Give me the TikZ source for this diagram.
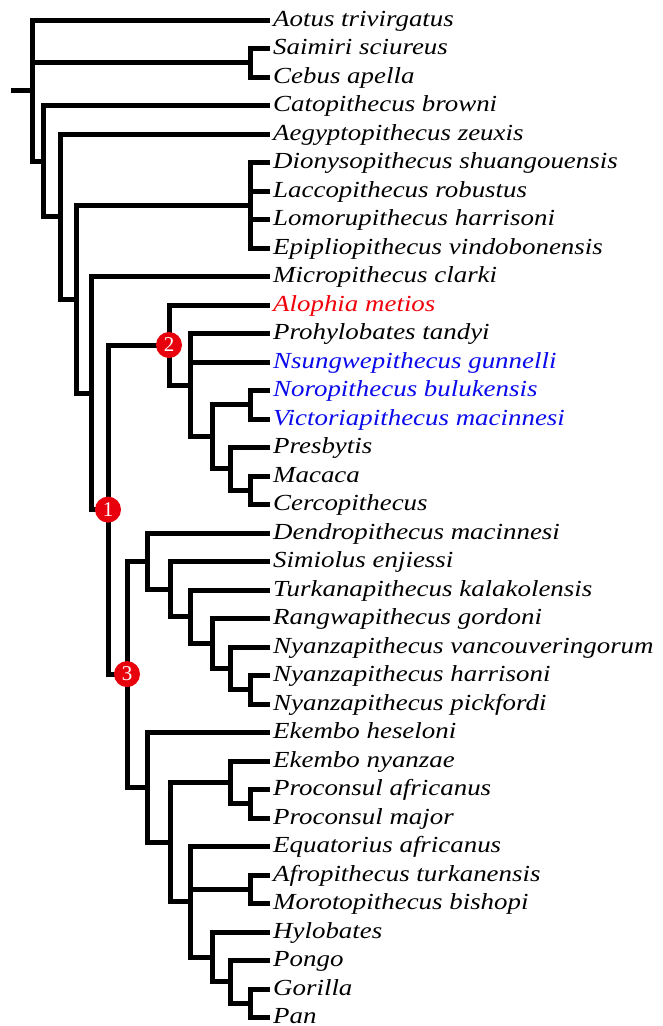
\documentclass[tikz,border=0pt]{standalone}
\usepackage{fontspec}
\usepackage{graphicx}
\setmainfont{Liberation Serif}
\definecolor{tred}{RGB}{240,0,10}
\definecolor{tblue}{RGB}{10,10,235}
\definecolor{cred}{RGB}{232,0,12}
\newcommand{\tx}[1]{\scalebox{1.17}[1]{\itshape #1}}
\tikzset{
  br/.style={line width=5pt, line join=miter, line cap=butt},
  lab/.style={anchor=base west, inner sep=0pt, xshift=3pt, yshift=-6pt, font=\fontsize{23}{27}\selectfont},
  num/.style={circle, fill=cred, text=white, minimum size=26pt, inner sep=0pt, font=\fontsize{21}{21}\selectfont},
}
\begin{document}
\begin{tikzpicture}[x=1pt,y=-1pt]
\useasboundingbox (0,0) rectangle (663,1026);
% leaves
\coordinate (L1) at (270,20);
\coordinate (L2) at (270,48.5);
\coordinate (L3) at (270,77);
\coordinate (L4) at (270,105.5);
\coordinate (L5) at (270,134);
\coordinate (L6) at (270,162.5);
\coordinate (L7) at (270,191);
\coordinate (L8) at (270,219.5);
\coordinate (L9) at (270,248);
\coordinate (L10) at (270,276.5);
\coordinate (L11) at (270,305);
\coordinate (L12) at (270,333.5);
\coordinate (L13) at (270,362);
\coordinate (L14) at (270,390.5);
\coordinate (L15) at (270,419);
\coordinate (L16) at (270,447.5);
\coordinate (L17) at (270,476);
\coordinate (L18) at (270,504.5);
\coordinate (L19) at (270,533);
\coordinate (L20) at (270,561.5);
\coordinate (L21) at (270,590);
\coordinate (L22) at (270,618.5);
\coordinate (L23) at (270,647);
\coordinate (L24) at (270,675.5);
\coordinate (L25) at (270,704);
\coordinate (L26) at (270,732.5);
\coordinate (L27) at (270,761);
\coordinate (L28) at (270,789.5);
\coordinate (L29) at (270,818);
\coordinate (L30) at (270,846.5);
\coordinate (L31) at (270,875);
\coordinate (L32) at (270,903.5);
\coordinate (L33) at (270,932);
\coordinate (L34) at (270,960.5);
\coordinate (L35) at (270,989);
\coordinate (L36) at (270,1017.5);
% internal nodes
\coordinate (stub) at (11,90.5);
\coordinate (root) at (32,90.5);
\coordinate (nSC) at (250,62.25);
\coordinate (nA) at (43,161);
\coordinate (nB) at (60,216.6);
\coordinate (nC) at (76,299.1);
\coordinate (nD) at (250,205.25);
\coordinate (nE) at (91,393);
\coordinate (n1) at (108,509.6);
\coordinate (n2) at (169,345);
\coordinate (nF) at (190,385.1);
\coordinate (nG) at (212,436.8);
\coordinate (nH) at (250,404.75);
\coordinate (nI) at (230,468.9);
\coordinate (nJ) at (250,490.25);
\coordinate (n3) at (127,674.1);
\coordinate (nK) at (147,561);
\coordinate (nL) at (170,589.1);
\coordinate (nM) at (190,616.7);
\coordinate (nN) at (212,643.4);
\coordinate (nO) at (230,668.4);
\coordinate (nP) at (250,689.75);
\coordinate (nQ) at (147,787.3);
\coordinate (nR) at (170,842);
\coordinate (nS) at (230,782.4);
\coordinate (nU) at (250,803.75);
\coordinate (nT) at (190,901.7);
\coordinate (nV) at (250,889.25);
\coordinate (nW) at (212,957);
\coordinate (nX) at (230,981.9);
\coordinate (nY) at (250,1003.25);
% branches
\draw[br] (stub) -- (root);
\draw[br] (root) |- (L1);
\draw[br] (root) |- (nSC);
\draw[br] (root) |- (nA);
\draw[br] (nSC) |- (L2);
\draw[br] (nSC) |- (L3);
\draw[br] (nA) |- (L4);
\draw[br] (nA) |- (nB);
\draw[br] (nB) |- (L5);
\draw[br] (nB) |- (nC);
\draw[br] (nC) |- (nD);
\draw[br] (nC) |- (nE);
\draw[br] (nD) |- (L6);
\draw[br] (nD) |- (L7);
\draw[br] (nD) |- (L8);
\draw[br] (nD) |- (L9);
\draw[br] (nE) |- (L10);
\draw[br] (nE) |- (n1);
\draw[br] (n1) |- (n2);
\draw[br] (n1) |- (n3);
\draw[br] (n2) |- (L11);
\draw[br] (n2) |- (nF);
\draw[br] (nF) |- (L12);
\draw[br] (nF) |- (L13);
\draw[br] (nF) |- (nG);
\draw[br] (nG) |- (nH);
\draw[br] (nG) |- (nI);
\draw[br] (nH) |- (L14);
\draw[br] (nH) |- (L15);
\draw[br] (nI) |- (L16);
\draw[br] (nI) |- (nJ);
\draw[br] (nJ) |- (L17);
\draw[br] (nJ) |- (L18);
\draw[br] (n3) |- (nK);
\draw[br] (n3) |- (nQ);
\draw[br] (nK) |- (L19);
\draw[br] (nK) |- (nL);
\draw[br] (nL) |- (L20);
\draw[br] (nL) |- (nM);
\draw[br] (nM) |- (L21);
\draw[br] (nM) |- (nN);
\draw[br] (nN) |- (L22);
\draw[br] (nN) |- (nO);
\draw[br] (nO) |- (L23);
\draw[br] (nO) |- (nP);
\draw[br] (nP) |- (L24);
\draw[br] (nP) |- (L25);
\draw[br] (nQ) |- (L26);
\draw[br] (nQ) |- (nR);
\draw[br] (nR) |- (nS);
\draw[br] (nR) |- (nT);
\draw[br] (nS) |- (L27);
\draw[br] (nS) |- (nU);
\draw[br] (nU) |- (L28);
\draw[br] (nU) |- (L29);
\draw[br] (nT) |- (L30);
\draw[br] (nT) |- (nV);
\draw[br] (nT) |- (nW);
\draw[br] (nV) |- (L31);
\draw[br] (nV) |- (L32);
\draw[br] (nW) |- (L33);
\draw[br] (nW) |- (nX);
\draw[br] (nX) |- (L34);
\draw[br] (nX) |- (nY);
\draw[br] (nY) |- (L35);
\draw[br] (nY) |- (L36);
% circles
\node[num] (c1) at (n1) {1};
\node[num] (c2) at (n2) {2};
\node[num] (c3) at (n3) {3};
% labels
\node[lab] (t1) at (L1) {\tx{Aotus trivirgatus}};
\node[lab] (t2) at (L2) {\tx{Saimiri sciureus}};
\node[lab] (t3) at (L3) {\tx{Cebus apella}};
\node[lab] (t4) at (L4) {\tx{Catopithecus browni}};
\node[lab] (t5) at (L5) {\tx{Aegyptopithecus zeuxis}};
\node[lab] (t6) at (L6) {\tx{Dionysopithecus shuangouensis}};
\node[lab] (t7) at (L7) {\tx{Laccopithecus robustus}};
\node[lab] (t8) at (L8) {\tx{Lomorupithecus harrisoni}};
\node[lab] (t9) at (L9) {\tx{Epipliopithecus vindobonensis}};
\node[lab] (t10) at (L10) {\tx{Micropithecus clarki}};
\node[lab, text=tred] (t11) at (L11) {\tx{Alophia metios}};
\node[lab] (t12) at (L12) {\tx{Prohylobates tandyi}};
\node[lab, text=tblue] (t13) at (L13) {\tx{Nsungwepithecus gunnelli}};
\node[lab, text=tblue] (t14) at (L14) {\tx{Noropithecus bulukensis}};
\node[lab, text=tblue] (t15) at (L15) {\tx{Victoriapithecus macinnesi}};
\node[lab] (t16) at (L16) {\tx{Presbytis}};
\node[lab] (t17) at (L17) {\tx{Macaca}};
\node[lab] (t18) at (L18) {\tx{Cercopithecus}};
\node[lab] (t19) at (L19) {\tx{Dendropithecus macinnesi}};
\node[lab] (t20) at (L20) {\tx{Simiolus enjiessi}};
\node[lab] (t21) at (L21) {\tx{Turkanapithecus kalakolensis}};
\node[lab] (t22) at (L22) {\tx{Rangwapithecus gordoni}};
\node[lab] (t23) at (L23) {\tx{Nyanzapithecus vancouveringorum}};
\node[lab] (t24) at (L24) {\tx{Nyanzapithecus harrisoni}};
\node[lab] (t25) at (L25) {\tx{Nyanzapithecus pickfordi}};
\node[lab] (t26) at (L26) {\tx{Ekembo heseloni}};
\node[lab] (t27) at (L27) {\tx{Ekembo nyanzae}};
\node[lab] (t28) at (L28) {\tx{Proconsul africanus}};
\node[lab] (t29) at (L29) {\tx{Proconsul major}};
\node[lab] (t30) at (L30) {\tx{Equatorius africanus}};
\node[lab] (t31) at (L31) {\tx{Afropithecus turkanensis}};
\node[lab] (t32) at (L32) {\tx{Morotopithecus bishopi}};
\node[lab] (t33) at (L33) {\tx{Hylobates}};
\node[lab] (t34) at (L34) {\tx{Pongo}};
\node[lab] (t35) at (L35) {\tx{Gorilla}};
\node[lab] (t36) at (L36) {\tx{Pan}};
\end{tikzpicture}
\end{document}
